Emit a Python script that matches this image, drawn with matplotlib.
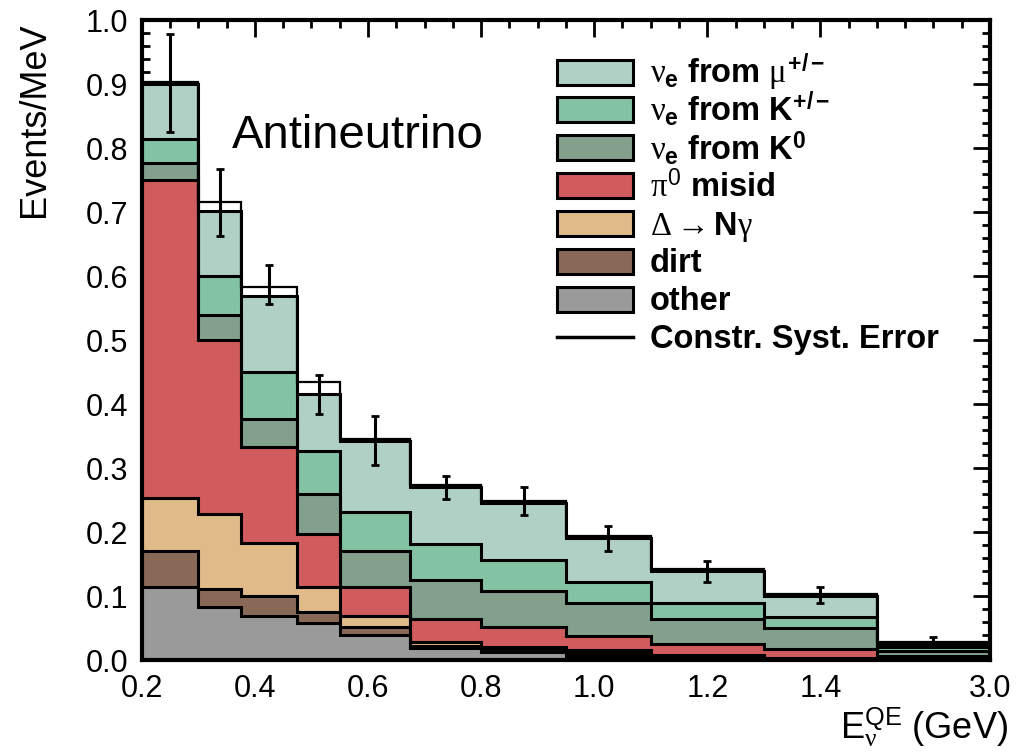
import numpy as np
import matplotlib
matplotlib.use('Agg')
import matplotlib.pyplot as plt
from matplotlib.patches import Rectangle
from matplotlib.lines import Line2D
from matplotlib.ticker import FixedLocator, MultipleLocator, FormatStrFormatter

plt.rcParams['font.family'] = ['Liberation Sans', 'DejaVu Sans']
plt.rcParams['mathtext.fontset'] = 'custom'
plt.rcParams['mathtext.rm'] = 'Liberation Serif'
plt.rcParams['mathtext.it'] = 'Liberation Serif'
plt.rcParams['mathtext.bf'] = 'Liberation Sans:bold'
plt.rcParams['mathtext.sf'] = 'Liberation Sans'

# bin edges in E_nu^QE (GeV)
edges = [0.2, 0.3, 0.375, 0.475, 0.55, 0.675, 0.8, 0.95, 1.1, 1.3, 1.5, 3.0]

# background components (Events/MeV), bottom to top of the stack
other = [0.115, 0.083, 0.069, 0.058, 0.039, 0.019, 0.013, 0.006, 0.003, 0.001, 0.002]
dirt = [0.055, 0.029, 0.031, 0.017, 0.013, 0.004, 0.004, 0.005, 0.003, 0.001, 0.001]
delta = [0.084, 0.117, 0.084, 0.039, 0.017, 0.005, 0.004, 0.005, 0.002, 0.001, 0.001]
pi0 = [0.497, 0.272, 0.149, 0.084, 0.045, 0.037, 0.031, 0.022, 0.017, 0.014, 0.002]
k0 = [0.026, 0.039, 0.044, 0.062, 0.056, 0.060, 0.057, 0.051, 0.040, 0.033, 0.008]
kpm = [0.038, 0.060, 0.073, 0.067, 0.061, 0.056, 0.048, 0.034, 0.024, 0.017, 0.006]
mupm = [0.085, 0.102, 0.119, 0.089, 0.112, 0.090, 0.088, 0.068, 0.051, 0.033, 0.006]

# constrained systematic error (drawn above the total)
syst = [0.004, 0.014, 0.015, 0.019, 0.003, 0.003, 0.004, 0.003, 0.003, 0.003, 0.003]

# data
data = [0.902, 0.715, 0.587, 0.415, 0.343, 0.270, 0.249, 0.190, 0.139, 0.102, 0.028]
data_err = [0.076, 0.052, 0.031, 0.030, 0.038, 0.018, 0.022, 0.020, 0.016, 0.013, 0.008]

labels = [r'$\nu_{\mathbf{e}}$ from $\mu^{\mathbf{+/-}}$',
          r'$\nu_{\mathbf{e}}$ from K$^{\mathbf{+/-}}$',
          r'$\nu_{\mathbf{e}}$ from K$^{\mathbf{0}}$',
          r'$\pi^{\mathsf{0}}$ misid',
          r'$\Delta\rightarrow$N$\gamma$',
          'dirt',
          'other']
colors = ['#b0d0c6', '#84c2a4', '#82a08c', '#d05c5e', '#e0ba88', '#8a6858', '#9a9a9a']


def fwd(x):
    x = np.asarray(x, float)
    return np.where(x <= 1.5, x, 1.5 + (x - 1.5) * 0.2 / 1.5)


def inv(y):
    y = np.asarray(y, float)
    return np.where(y <= 1.5, y, 1.5 + (y - 1.5) * 1.5 / 0.2)


W, H = 1028, 752
fig = plt.figure(figsize=(W / 100, H / 100), dpi=100)
ax = fig.add_axes([0.138, 0.122, 0.825, 0.851])
ax.set_xscale('function', functions=(fwd, inv))

layers = [other, dirt, delta, pi0, k0, kpm, mupm]
cum = np.cumsum(np.array(layers), axis=0)
stack_colors = colors[::-1]

for i in range(len(layers) - 1, -1, -1):
    ax.stairs(cum[i], edges, baseline=0, fill=True, color=stack_colors[i], zorder=2)
    ax.stairs(cum[i], edges, baseline=None, color='k', lw=2.2, zorder=3)

total = cum[-1]
ax.stairs(total + np.array(syst), edges, baseline=None, color='k', lw=1.6, zorder=3)

e = np.array(edges)
xc = inv((fwd(e[:-1]) + fwd(e[1:])) / 2)
ax.errorbar(xc, data, yerr=data_err, fmt='none', ecolor='k', elinewidth=2.2,
            capsize=3, capthick=2, zorder=4)

ax.set_xlim(0.2, 3.0)
ax.set_ylim(0, 1.0)

ax.xaxis.set_major_locator(FixedLocator([0.2, 0.4, 0.6, 0.8, 1.0, 1.2, 1.4, 3.0]))
minor_x = list(np.arange(0.25, 1.51, 0.05)) + list(inv([1.55, 1.6, 1.65]))
ax.xaxis.set_minor_locator(FixedLocator(minor_x))
ax.xaxis.set_major_formatter(FormatStrFormatter('%.1f'))
ax.yaxis.set_major_locator(MultipleLocator(0.1))
ax.yaxis.set_minor_locator(MultipleLocator(0.02))
ax.yaxis.set_major_formatter(FormatStrFormatter('%.1f'))

ax.tick_params(which='both', direction='in', top=True, right=True, width=2, labelsize=22)
ax.tick_params(which='major', length=12, pad=10)
ax.tick_params(which='minor', length=6)
for s in ax.spines.values():
    s.set_linewidth(3)
    s.set_zorder(5)

ax.set_ylabel('Events/MeV', fontsize=26, loc='top')
ax.yaxis.set_label_coords(-0.106, 0.997)
ax.set_xlabel(r'$\mathsf{E}_{\nu}^{\mathsf{QE}}$ (GeV)', fontsize=26, loc='right')
ax.xaxis.set_label_coords(1.021, -0.07)

ax.text(0.106, 0.80, 'Antineutrino', transform=ax.transAxes, fontsize=34,
        va='baseline', ha='left')

# legend drawn by hand so that every row has the same height
row0, row_step = 72, 37.9
for i, lab in enumerate(labels + ['Constr. Syst. Error']):
    yc = row0 + row_step * i
    if i < len(colors):
        ax.add_patch(Rectangle((557 / W, 1 - (yc + 12.5) / H), 76 / W, 25 / H,
                               transform=fig.transFigure, facecolor=colors[i],
                               edgecolor='k', lw=2.2, clip_on=False, zorder=6))
    else:
        ax.add_line(Line2D([557 / W, 633 / W], [1 - yc / H, 1 - yc / H],
                           transform=fig.transFigure, color='k', lw=2.5,
                           clip_on=False, zorder=6))
    fig.text(650 / W, 1 - (yc + 11) / H, lab, fontsize=23.5, fontweight='bold',
             va='baseline', ha='left')

fig.savefig('out.png', dpi=100)
